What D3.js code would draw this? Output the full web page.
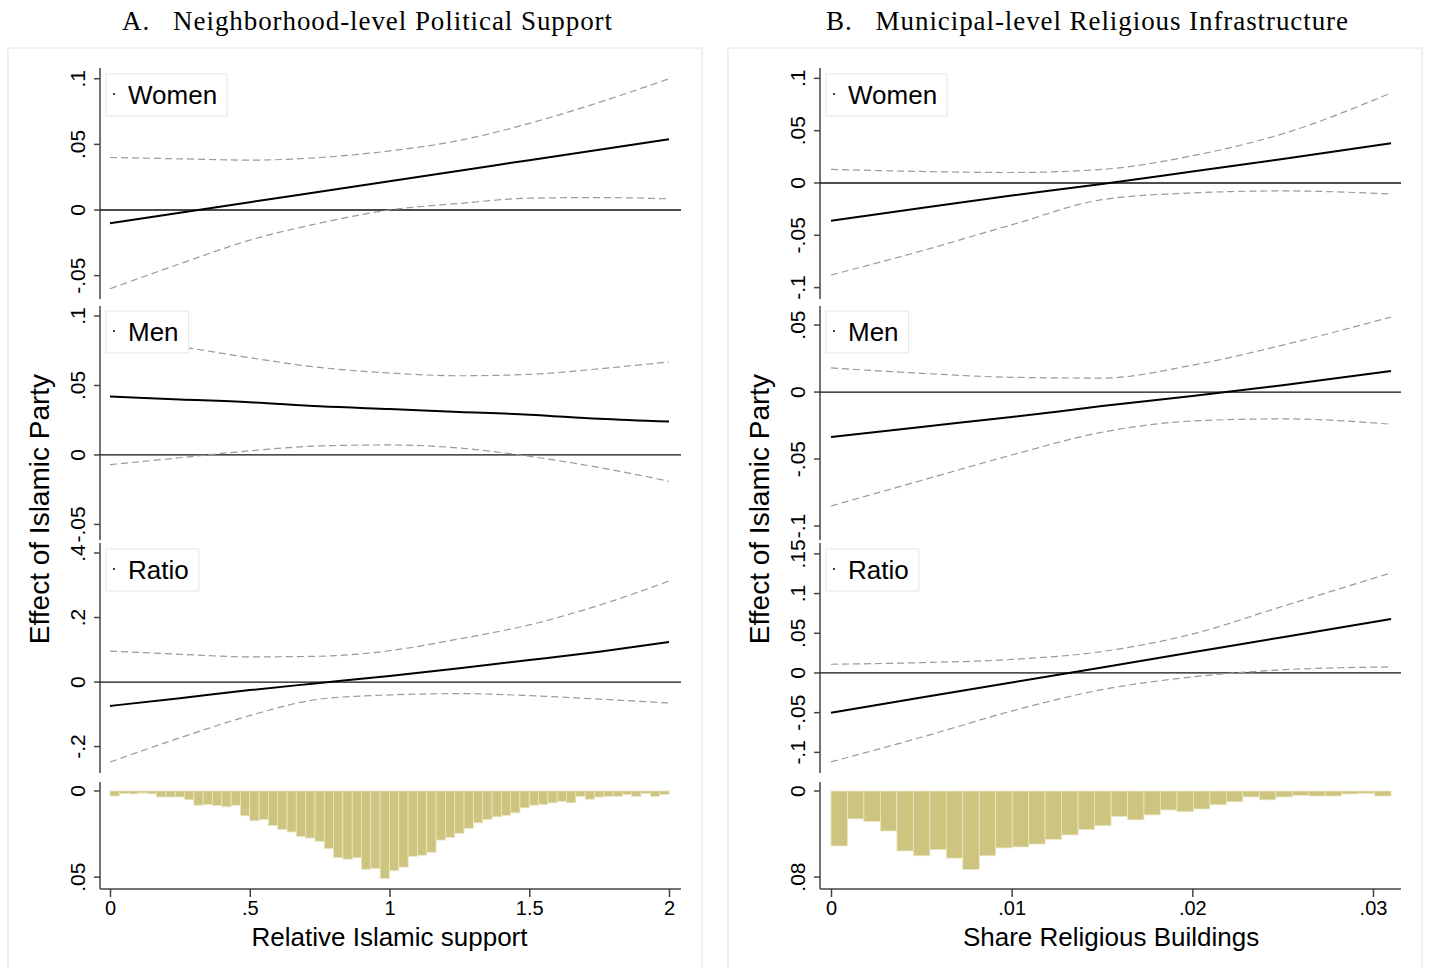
<!DOCTYPE html>
<html>
<head>
<meta charset="utf-8">
<script src="https://cdn.jsdelivr.net/npm/d3@7"></script>
<style>
body { margin: 0; background: #fff; }
svg { display: block; }
text { font-family: "Liberation Sans", Arial, sans-serif; fill: #000; }
</style>
</head>
<body>
<div id="chart"></div>
<script>
// ---- panel A: relative islamic support ----
var xA = [0, 0.25, 0.5, 0.75, 1, 1.25, 1.5, 1.75, 2];

var womenA_est = [-0.010, -0.002, 0.006, 0.014, 0.022, 0.030, 0.038, 0.046, 0.054];
var womenA_hi  = [0.040, 0.039, 0.038, 0.040, 0.045, 0.053, 0.066, 0.082, 0.100];
var womenA_lo  = [-0.060, -0.041, -0.023, -0.010, 0.000, 0.005, 0.009, 0.0095, 0.0085];

var menA_est = [0.042, 0.040, 0.038, 0.035, 0.033, 0.031, 0.029, 0.026, 0.024];
var menA_hi  = [0.085, 0.078, 0.070, 0.063, 0.059, 0.057, 0.058, 0.062, 0.067];
var menA_lo  = [-0.007, -0.002, 0.003, 0.0065, 0.0072, 0.005, -0.001, -0.009, -0.019];

var ratioA_est = [-0.074, -0.050, -0.025, -0.003, 0.019, 0.043, 0.068, 0.094, 0.124];
var ratioA_hi  = [0.096, 0.086, 0.078, 0.080, 0.097, 0.134, 0.177, 0.238, 0.313];
var ratioA_lo  = [-0.248, -0.173, -0.104, -0.053, -0.040, -0.036, -0.042, -0.053, -0.065];

// 60 bins of width 1/30 from 0 to 2
var histA = [0.0029, 0.0015, 0.0017, 0.0012, 0.0017, 0.0035, 0.0035, 0.0035, 0.005, 0.0083,
             0.0079, 0.0085, 0.0092, 0.0083, 0.0144, 0.0173, 0.0165, 0.020, 0.0223, 0.0238,
             0.0265, 0.0273, 0.0292, 0.0335, 0.0387, 0.0396, 0.0388, 0.0454, 0.045, 0.0508,
             0.0463, 0.0442, 0.038, 0.0373, 0.0356, 0.0285, 0.0269, 0.0246, 0.0217, 0.0185,
             0.0165, 0.015, 0.0142, 0.0127, 0.0098, 0.0083, 0.0079, 0.0069, 0.006, 0.0069,
             0.0031, 0.0048, 0.0035, 0.0031, 0.0031, 0.0021, 0.0031, 0.0015, 0.0031, 0.0021];

// ---- panel B: share religious buildings ----
var xB = [0, 0.005, 0.01, 0.015, 0.02, 0.025, 0.031];

var womenB_est = [-0.036, -0.024, -0.012, -0.001, 0.011, 0.023, 0.038];
var womenB_hi  = [0.013, 0.011, 0.010, 0.013, 0.026, 0.047, 0.086];
var womenB_lo  = [-0.088, -0.065, -0.040, -0.016, -0.0095, -0.0076, -0.0105];

var menB_est = [-0.0336, -0.026, -0.0187, -0.0105, -0.003, 0.005, 0.0157];
var menB_hi  = [0.018, 0.014, 0.011, 0.0104, 0.020, 0.035, 0.056];
var menB_lo  = [-0.085, -0.066, -0.047, -0.030, -0.0216, -0.020, -0.024];

var ratioB_est = [-0.050, -0.031, -0.012, 0.007, 0.026, 0.045, 0.068];
var ratioB_hi  = [0.011, 0.013, 0.017, 0.027, 0.049, 0.084, 0.126];
var ratioB_lo  = [-0.112, -0.081, -0.048, -0.021, -0.005, 0.004, 0.0076];

// 34 bins from 0 to .031
var histB = [0.0511, 0.0259, 0.0283, 0.0371, 0.0557, 0.0602, 0.0545, 0.0624, 0.073, 0.0602,
             0.0529, 0.052, 0.0493, 0.045, 0.0408, 0.0359, 0.0322, 0.0237, 0.0268, 0.0222,
             0.0176, 0.0192, 0.0167, 0.0128, 0.010, 0.0055, 0.0082, 0.0055, 0.004, 0.0046,
             0.0046, 0.0027, 0.0021, 0.0046];

// tick values
var ticksWomenA = [-0.05, 0, 0.05, 0.1];
var ticksMenA = [-0.05, 0, 0.05, 0.1];
var ticksRatioA = [-0.2, 0, 0.2, 0.4];
var ticksHistA = [0, 0.05];
var xTicksA = [0, 0.5, 1, 1.5, 2];

var ticksWomenB = [-0.1, -0.05, 0, 0.05, 0.1];
var ticksMenB = [-0.1, -0.05, 0, 0.05];
var ticksRatioB = [-0.1, -0.05, 0, 0.05, 0.1, 0.15];
var ticksHistB = [0, 0.08];
var xTicksB = [0, 0.01, 0.02, 0.03];

var titles = ["A.   Neighborhood-level Political Support", "B.   Municipal-level Religious Infrastructure"];
var xTitles = ["Relative Islamic support", "Share Religious Buildings"];
var rowNames = ["Women", "Men", "Ratio"];
var yTitle = "Effect of Islamic Party";

var svgWidth = 1430;
var svgHeight = 968;

var svg = d3.select("#chart")
    .append("svg")
    .attr("width", svgWidth)
    .attr("height", svgHeight);

// stata style number labels: .05, -.1
function fmt(v) {
    return String(+v.toFixed(3)).replace(/^(-?)0\./, "$1.");
}

// vertical layout of the stacked sub-plots
var rowBox = [
    {top: 68, bot: 299, legTop: 74},
    {top: 306, bot: 540, legTop: 311},
    {top: 543, bot: 773, legTop: 549}
];
var histBox = {top: 782, bot: 889};

var panels = [
    {
        off: 0, axisX: 100, axisEnd: 681, xDomain: [0, 2], xRange: [110, 669],
        x: xA, xTicks: xTicksA, titleX: 367, titleW: 490,
        rows: [
            {est: womenA_est, hi: womenA_hi, lo: womenA_lo, ticks: ticksWomenA, domain: [-0.0678, 0.1082]},
            {est: menA_est, hi: menA_hi, lo: menA_lo, ticks: ticksMenA, domain: [-0.0612, 0.1072]},
            {est: ratioA_est, hi: ratioA_hi, lo: ratioA_lo, ticks: ticksRatioA, domain: [-0.282, 0.431]}
        ],
        hist: histA, histEnd: 2, histTicks: ticksHistA, histDomain: [-0.0052, 0.0569]
    },
    {
        off: 720, axisX: 820, axisEnd: 1401, xDomain: [0, 0.03], xRange: [831, 1373],
        x: xB, xTicks: xTicksB, titleX: 1087, titleW: 522,
        rows: [
            {est: womenB_est, hi: womenB_hi, lo: womenB_lo, ticks: ticksWomenB, domain: [-0.1109, 0.1099]},
            {est: menB_est, hi: menB_hi, lo: menB_lo, ticks: ticksMenB, domain: [-0.1104, 0.0642]},
            {est: ratioB_est, hi: ratioB_hi, lo: ratioB_lo, ticks: ticksRatioB, domain: [-0.126, 0.1637]}
        ],
        hist: histB, histEnd: 0.031, histTicks: ticksHistB, histDomain: [-0.0084, 0.0911]
    }
];

function yTickLabels(g, scale, ticks, axisX) {
    ticks.forEach(function(t) {
        var y = scale(t);
        g.append("line")
            .attr("x1", axisX - 6).attr("x2", axisX)
            .attr("y1", y).attr("y2", y)
            .attr("stroke", "#444").attr("stroke-width", 1.5);
        g.append("text")
            .attr("x", axisX - 15).attr("y", y)
            .attr("transform", `rotate(-90, ${axisX - 15}, ${y})`)
            .attr("text-anchor", "middle")
            .style("font-size", "21px")
            .text(fmt(t));
    });
}

panels.forEach(function(p, pi) {
    var g = svg.append("g");

    // faint graph region outline
    g.append("rect")
        .attr("x", 8 + p.off).attr("y", 48)
        .attr("width", 694).attr("height", 940)
        .attr("fill", "none")
        .attr("stroke", "#e6eef1").attr("stroke-width", 1.5);

    g.append("text")
        .attr("x", p.titleX).attr("y", 30)
        .attr("text-anchor", "middle")
        .attr("textLength", p.titleW)
        .attr("lengthAdjust", "spacing")
        .style("white-space", "pre")
        .style("font-family", "'Liberation Serif', 'DejaVu Serif', serif")
        .style("font-size", "27px")
        .text(titles[pi]);

    g.append("text")
        .attr("x", 49 + p.off).attr("y", 509)
        .attr("transform", `rotate(-90, ${49 + p.off}, 509)`)
        .attr("text-anchor", "middle")
        .style("font-size", "28px")
        .text(yTitle);

    var xScale = d3.scaleLinear().domain(p.xDomain).range(p.xRange);

    p.rows.forEach(function(r, ri) {
        var box = rowBox[ri];
        var yScale = d3.scaleLinear().domain(r.domain).range([box.bot, box.top]);

        // y axis line
        g.append("line")
            .attr("x1", p.axisX).attr("x2", p.axisX)
            .attr("y1", box.top).attr("y2", box.bot)
            .attr("stroke", "#444").attr("stroke-width", 1.5);
        yTickLabels(g, yScale, r.ticks, p.axisX);

        // zero line
        g.append("line")
            .attr("x1", p.axisX).attr("x2", p.axisEnd)
            .attr("y1", yScale(0)).attr("y2", yScale(0))
            .attr("stroke", "#111").attr("stroke-width", 1.3);

        var pts = function(arr) { return arr.map(function(v, i) { return [p.x[i], v]; }); };
        var line = d3.line()
            .x(d => xScale(d[0]))
            .y(d => yScale(d[1]))
            .curve(d3.curveMonotoneX);

        [r.hi, r.lo].forEach(function(band) {
            g.append("path")
                .attr("d", line(pts(band)))
                .attr("fill", "none")
                .attr("stroke", "#9a9a9a")
                .attr("stroke-width", 1.2)
                .attr("stroke-dasharray", "7,4");
        });
        g.append("path")
            .attr("d", line(pts(r.est)))
            .attr("fill", "none")
            .attr("stroke", "#000")
            .attr("stroke-width", 2);

        // legend box
        var leg = g.append("g");
        var legRect = leg.append("rect")
            .attr("x", p.axisX + 6).attr("y", box.legTop)
            .attr("height", 42)
            .attr("fill", "#fff")
            .attr("stroke", "#e3ecee").attr("stroke-width", 1.2);
        leg.append("circle")
            .attr("cx", p.axisX + 14).attr("cy", box.legTop + 20)
            .attr("r", 1).attr("fill", "#000");
        var legText = leg.append("text")
            .attr("x", p.axisX + 28).attr("y", box.legTop + 30)
            .style("font-size", "26px")
            .text(rowNames[ri]);
        legRect.attr("width", 22 + legText.node().getComputedTextLength() + 10);
    });

    // histogram, drawn hanging down from zero
    var hScale = d3.scaleLinear().domain(p.histDomain).range([histBox.top, histBox.bot]);
    var binW = p.histEnd / p.hist.length;
    g.selectAll(".bar")
        .data(p.hist)
        .enter()
        .append("rect")
        .attr("x", (d, i) => xScale(i * binW))
        .attr("width", (d, i) => xScale((i + 1) * binW) - xScale(i * binW))
        .attr("y", hScale(0))
        .attr("height", d => hScale(d) - hScale(0))
        .attr("fill", "#cdc480")
        .attr("stroke", "#ebe6c2")
        .attr("stroke-width", 0.8);

    g.append("line")
        .attr("x1", p.axisX).attr("x2", p.axisX)
        .attr("y1", histBox.top).attr("y2", histBox.bot)
        .attr("stroke", "#444").attr("stroke-width", 1.5);
    yTickLabels(g, hScale, p.histTicks, p.axisX);

    // x axis
    var bottomAxis = d3.axisBottom(xScale)
        .tickValues(p.xTicks)
        .tickFormat(fmt)
        .tickSize(8)
        .tickPadding(4);
    var xAxis = g.append("g")
        .attr("transform", `translate(0, ${histBox.bot})`)
        .call(bottomAxis);
    xAxis.select(".domain").remove();
    xAxis.selectAll("line").attr("stroke", "#444").attr("stroke-width", 1.5);
    xAxis.selectAll("text")
        .style("font-size", "20px")
        .style("font-family", "'Liberation Sans', Arial, sans-serif");
    g.append("line")
        .attr("x1", p.axisX).attr("x2", p.axisEnd)
        .attr("y1", histBox.bot).attr("y2", histBox.bot)
        .attr("stroke", "#444").attr("stroke-width", 1.5);

    g.append("text")
        .attr("x", (xScale(0) + xScale(p.histEnd)) / 2).attr("y", 946)
        .attr("text-anchor", "middle")
        .style("font-size", "26px")
        .text(xTitles[pi]);
});
</script>
</body>
</html>
